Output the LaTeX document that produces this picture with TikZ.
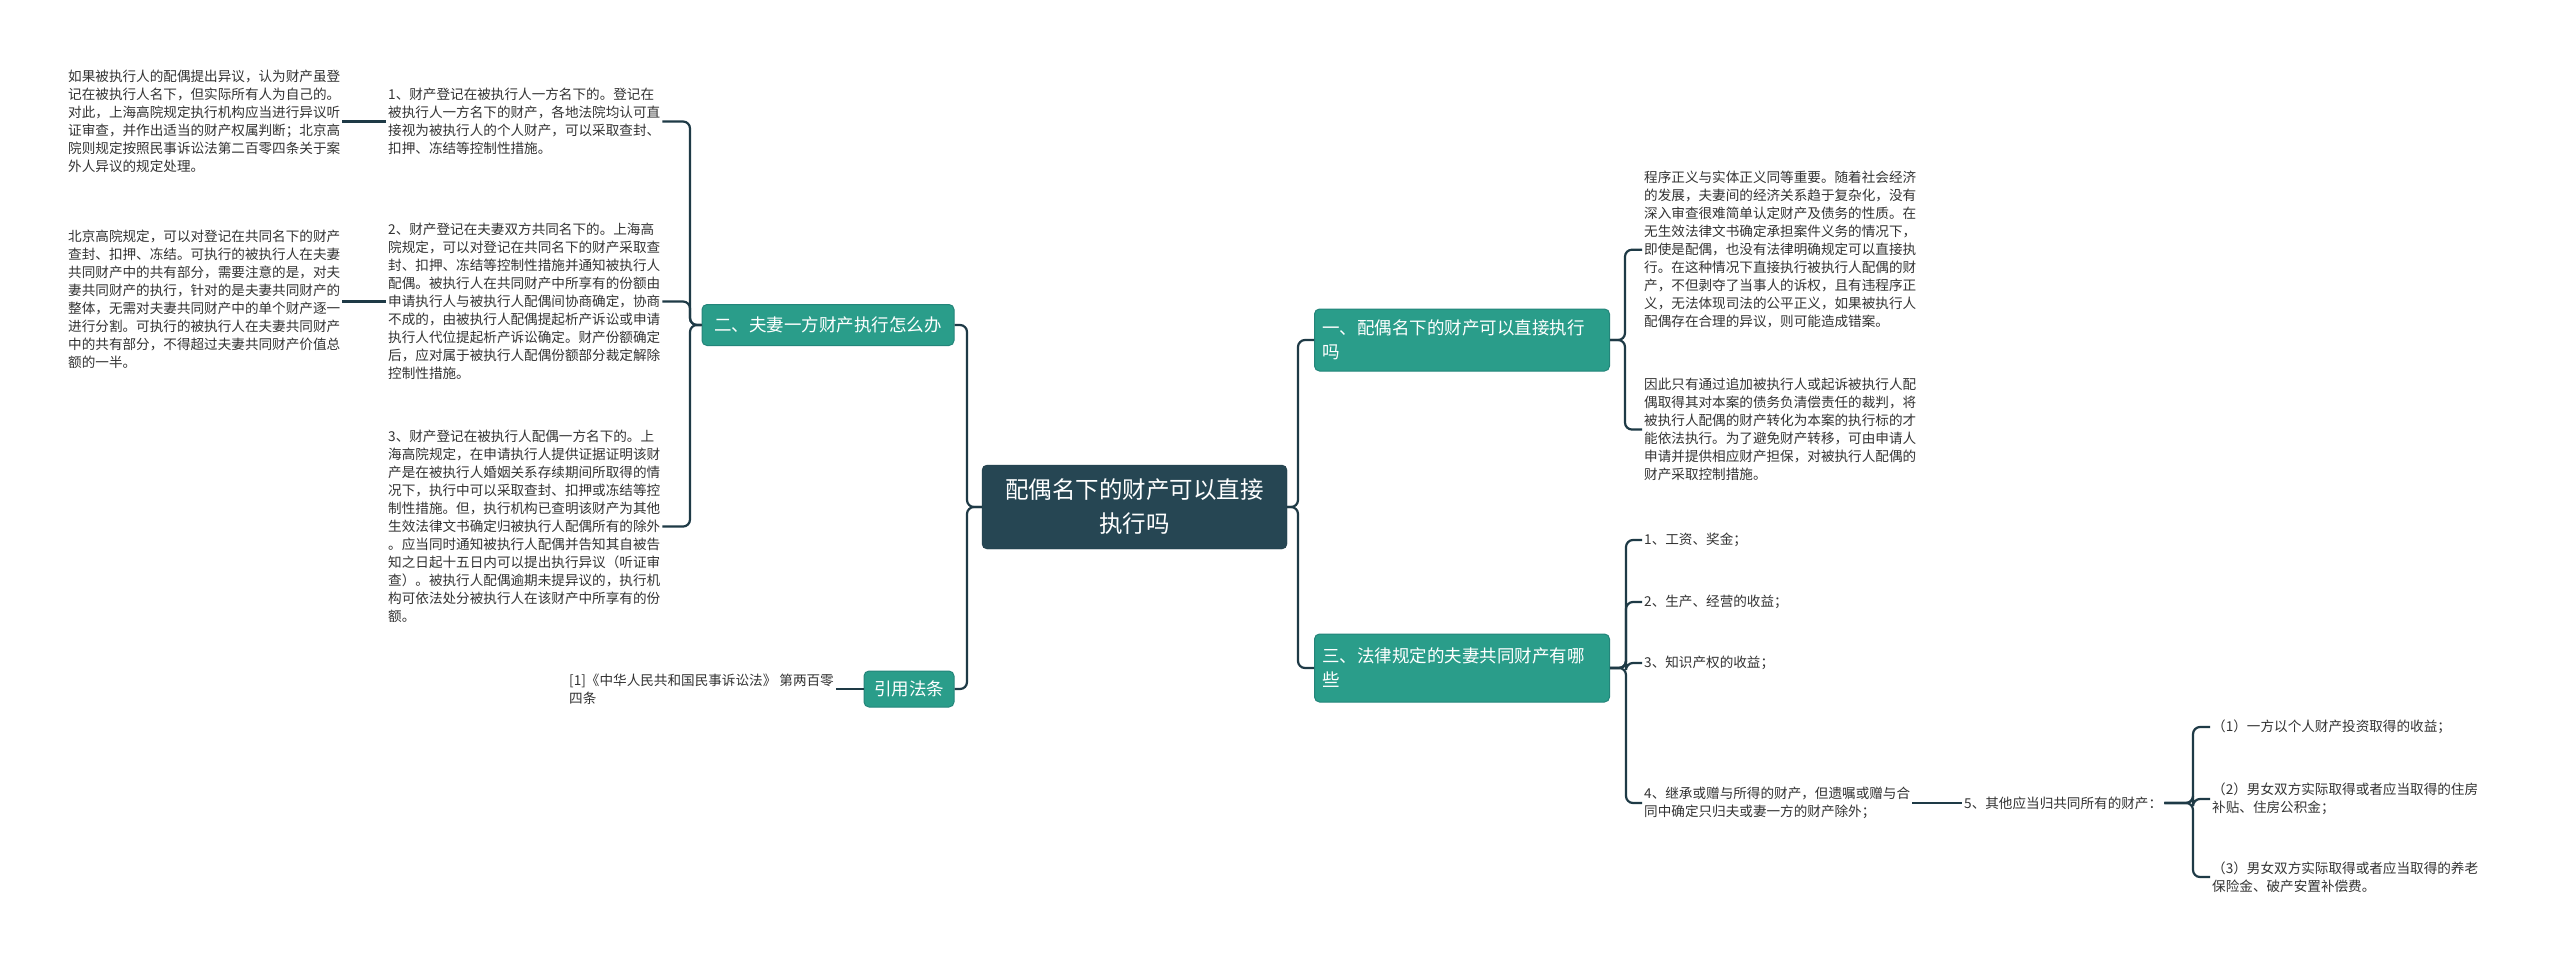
\documentclass[tikz,border=0pt]{standalone}
\usepackage{fontspec}
\setmainfont{Noto Sans CJK SC}
\definecolor{ln}{HTML}{1E3A46}
\definecolor{teal}{HTML}{2A9D8A}
\definecolor{tealb}{HTML}{23857A}
\definecolor{dark}{HTML}{264653}
\definecolor{txt}{HTML}{333333}
\begin{document}
\begin{tikzpicture}[x=1pt,y=-1pt,
  txtn/.style={anchor=north west,inner sep=2pt,align=left,text=txt,font=\fontsize{13.6}{18}\selectfont},
  br/.style={draw=tealb,fill=teal,rounded corners=5pt,text=white,line width=1pt,align=left,font=\fontsize{17.5}{24}\selectfont},
  con/.style={draw=ln,line width=2.2pt,rounded corners=7pt}]
\useasboundingbox[fill=white] (0,0) rectangle (2560,962);
% main
\node[draw=ln,fill=dark,rounded corners=5pt,text=white,align=center,minimum width=305,minimum height=84,font=\fontsize{23.5}{34}\selectfont] (c) at (1134.5,507) {配偶名下的财产可以直接\\执行吗};
% left branches
\node[br,minimum width=252,minimum height=41] (b2) at (828,325) {二、夫妻一方财产执行怎么办};
\node[br,minimum width=90,minimum height=36] (bc) at (909,689) {引用法条};
% right branches
\node[br,minimum width=295,minimum height=62,text width=280] (b1) at (1462,340) {一、配偶名下的财产可以直接执行\\吗};
\node[br,minimum width=295,minimum height=68,text width=280] (b3) at (1462,668) {三、法律规定的夫妻共同财产有哪\\些};
% left texts
\node[txtn] (i1) at (386,86) {1、财产登记在被执行人一方名下的。登记在\\被执行人一方名下的财产，各地法院均认可直\\接视为被执行人的个人财产，可以采取查封、\\扣押、冻结等控制性措施。};
\node[txtn] (i2) at (386,221) {2、财产登记在夫妻双方共同名下的。上海高\\院规定，可以对登记在共同名下的财产采取查\\封、扣押、冻结等控制性措施并通知被执行人\\配偶。被执行人在共同财产中所享有的份额由\\申请执行人与被执行人配偶间协商确定，协商\\不成的，由被执行人配偶提起析产诉讼或申请\\执行人代位提起析产诉讼确定。财产份额确定\\后，应对属于被执行人配偶份额部分裁定解除\\控制性措施。};
\node[txtn] (i3) at (386,428) {3、财产登记在被执行人配偶一方名下的。上\\海高院规定，在申请执行人提供证据证明该财\\产是在被执行人婚姻关系存续期间所取得的情\\况下，执行中可以采取查封、扣押或冻结等控\\制性措施。但，执行机构已查明该财产为其他\\生效法律文书确定归被执行人配偶所有的除外\\。应当同时通知被执行人配偶并告知其自被告\\知之日起十五日内可以提出执行异议（听证审\\查）。被执行人配偶逾期未提异议的，执行机\\构可依法处分被执行人在该财产中所享有的份\\额。};
\node[txtn] (l1) at (66,68) {如果被执行人的配偶提出异议，认为财产虽登\\记在被执行人名下，但实际所有人为自己的。\\对此，上海高院规定执行机构应当进行异议听\\证审查，并作出适当的财产权属判断；北京高\\院则规定按照民事诉讼法第二百零四条关于案\\外人异议的规定处理。};
\node[txtn] (l2) at (66,228) {北京高院规定，可以对登记在共同名下的财产\\查封、扣押、冻结。可执行的被执行人在夫妻\\共同财产中的共有部分，需要注意的是，对夫\\妻共同财产的执行，针对的是夫妻共同财产的\\整体，无需对夫妻共同财产中的单个财产逐一\\进行分割。可执行的被执行人在夫妻共同财产\\中的共有部分，不得超过夫妻共同财产价值总\\额的一半。};
\node[txtn,anchor=east] (cit) at (836,689) {[1]《中华人民共和国民事诉讼法》 第两百零\\四条};
% right texts
\node[txtn] (r1) at (1642,169) {程序正义与实体正义同等重要。随着社会经济\\的发展，夫妻间的经济关系趋于复杂化，没有\\深入审查很难简单认定财产及债务的性质。在\\无生效法律文书确定承担案件义务的情况下，\\即使是配偶，也没有法律明确规定可以直接执\\行。在这种情况下直接执行被执行人配偶的财\\产，不但剥夺了当事人的诉权，且有违程序正\\义，无法体现司法的公平正义，如果被执行人\\配偶存在合理的异议，则可能造成错案。};
\node[txtn] (r2) at (1642,376) {因此只有通过追加被执行人或起诉被执行人配\\偶取得其对本案的债务负清偿责任的裁判，将\\被执行人配偶的财产转化为本案的执行标的才\\能依法执行。为了避免财产转移，可由申请人\\申请并提供相应财产担保，对被执行人配偶的\\财产采取控制措施。};
\node[txtn,anchor=west] (s1) at (1642,540) {1、工资、奖金；};
\node[txtn,anchor=west] (s2) at (1642,602) {2、生产、经营的收益；};
\node[txtn,anchor=west] (s3) at (1642,663) {3、知识产权的收益；};
\node[txtn,anchor=west] (s4) at (1642,803) {4、继承或赠与所得的财产，但遗嘱或赠与合\\同中确定只归夫或妻一方的财产除外；};
\node[txtn,anchor=west] (s5) at (1962,803) {5、其他应当归共同所有的财产：};
\node[txtn,anchor=west] (t1) at (2210,727) {（1）一方以个人财产投资取得的收益；};
\node[txtn,anchor=west] (t2) at (2210,799) {（2）男女双方实际取得或者应当取得的住房\\补贴、住房公积金；};
\node[txtn,anchor=west] (t3) at (2210,877) {（3）男女双方实际取得或者应当取得的养老\\保险金、破产安置补偿费。};
% junctions
\coordinate (jc) at (967,0);
\coordinate (j2) at (690,0);
\coordinate (jr) at (1298,0);
\coordinate (j1) at (1625,0);
\coordinate (j3) at (1626,0);
\coordinate (j5) at (2193,0);
% connectors
\draw[con] (c.west) -- (c.west -| jc) |- (b2.east);
\draw[con] (c.west) -- (c.west -| jc) |- (bc.east);
\draw[con] (b2.west) -- (b2.west -| j2) |- (i1.east);
\draw[con] (b2.west) -- (b2.west -| j2) |- (i2.east);
\draw[con] (b2.west) -- (b2.west -| j2) |- (i3.east);
\draw[con] (i1.west) -- (l1.east |- i1.west);
\draw[con] (i2.west) -- (l2.east |- i2.west);
\draw[con] (bc.west) -- (cit.east);
\draw[con] (c.east) -- (c.east -| jr) |- (b1.west);
\draw[con] (c.east) -- (c.east -| jr) |- (b3.west);
\draw[con] (b1.east) -- (b1.east -| j1) |- (r1.west);
\draw[con] (b1.east) -- (b1.east -| j1) |- (r2.west);
\foreach \s in {s1,s2,s3,s4}{\draw[con] (b3.east) -- (b3.east -| j3) |- (\s.west);}
\draw[con] (s4.east) -- (s5.west);
\foreach \t in {t1,t2,t3}{\draw[con] (s5.east) -- (s5.east -| j5) |- (\t.west);}
\end{tikzpicture}
\end{document}
